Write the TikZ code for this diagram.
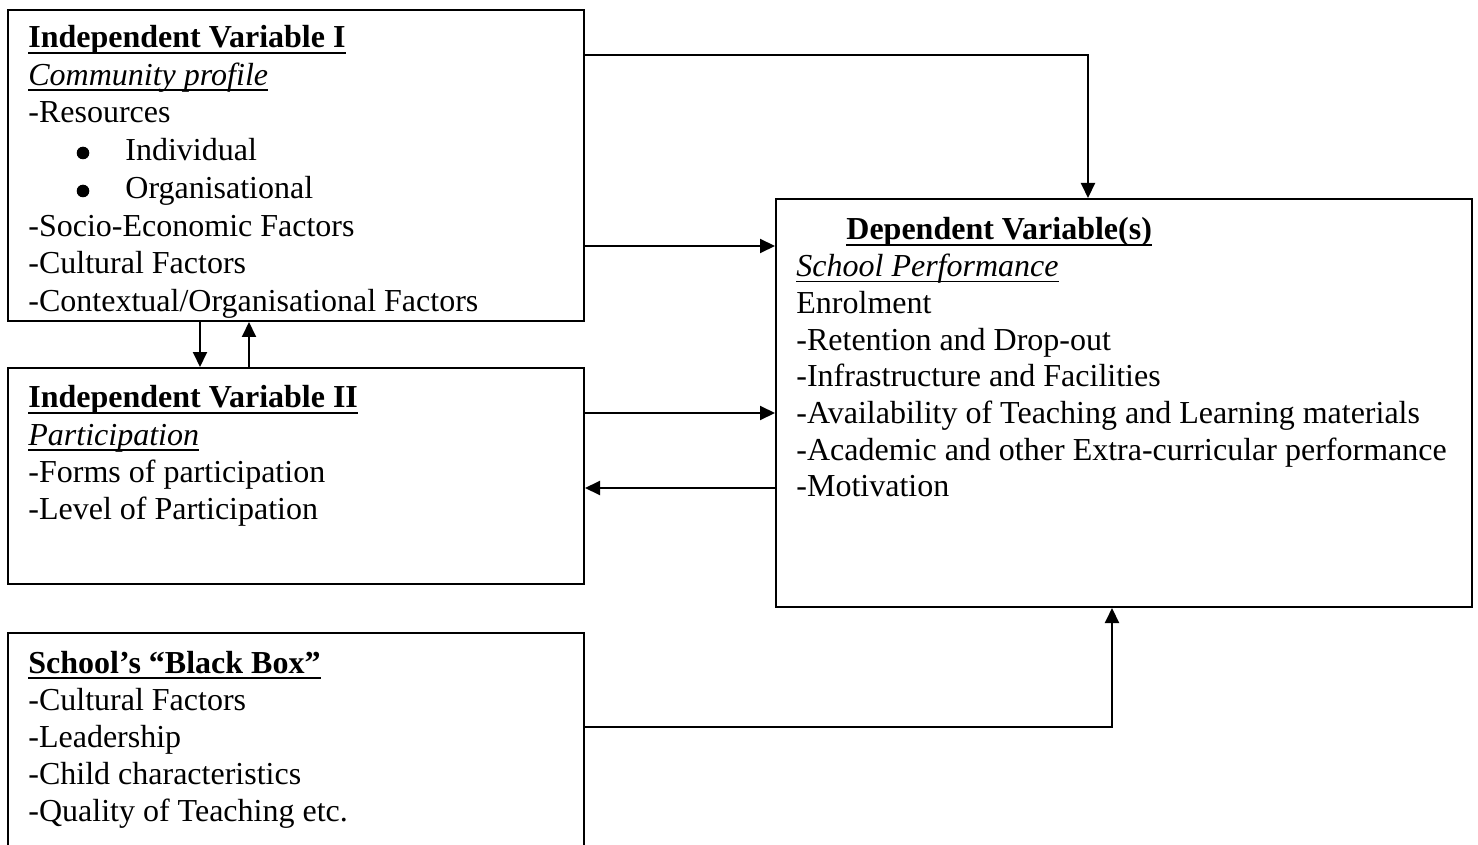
\documentclass[tikz,border=0pt]{standalone}
\usepackage{fontspec}
\setmainfont{Liberation Serif}
\usetikzlibrary{arrows.meta,fit}
\newcommand{\ulthick}[1]{\setbox0\hbox{#1}\rlap{\rule[-3.1pt]{\wd0}{1.3pt}}\box0}
\newcommand{\ulthin}[1]{\setbox0\hbox{#1}\rlap{\rule[-2.6pt]{\wd0}{0.6pt}}\box0}
\tikzset{
  box/.style={draw, line width=1pt, inner sep=0pt, rectangle},
  txt/.style={anchor=base west, inner sep=0pt, font=\fontsize{16pt}{18.6pt}\selectfont},
  bul/.style={circle, fill, inner sep=0pt, minimum size=6.3pt},
  arr/.style={line width=1pt, -{Triangle[length=7.5pt,width=7pt]}}
}
\begin{document}
\begin{tikzpicture}[x=0.5pt,y=-0.5pt]
\useasboundingbox (0,0) rectangle (1478,845);
\clip (0,0) rectangle (1478,845);
% boxes
\node[box, fit={(8,10)(584,321)}] (b1) {};
\node[box, fit={(8,368)(584,584)}] (b2) {};
\node[box, fit={(776,199)(1472,607)}] (dv) {};
\node[box, fit={(8,633)(584,870)}] (b3) {};
% helper coordinates
\coordinate (y55) at (0,55);
\coordinate (y246) at (0,246);
\coordinate (y413) at (0,413);
\coordinate (y488) at (0,488);
\coordinate (y727) at (0,727);
\coordinate (x200) at (200,0);
\coordinate (x249) at (249,0);
\coordinate (x1088) at (1088,0);
\coordinate (x1112) at (1112,0);
% box 1 text
\begin{scope}
\clip (8,10) rectangle (584,320);
\node[txt] (t11) at (28,48) {\ulthick{\bfseries Independent Variable I}};
\node[txt] (t12) at (28,85.5) {\ulthin{\itshape Community profile}};
\node[txt] (t13) at (28,123) {-Resources};
\node[bul] (t14b) at (83,153) {};
\node[txt] (t14) at (125,161) {Individual};
\node[bul] (t15b) at (83,191) {};
\node[txt] (t15) at (125,199) {Organisational};
\node[txt] (t16) at (28,236.5) {-Socio-Economic Factors};
\node[txt] (t17) at (28,274) {-Cultural Factors};
\node[txt] (t18) at (28,312) {-Contextual/Organisational Factors};
\end{scope}
% box 2 text
\node[txt] (t21) at (28,408) {\ulthick{\bfseries Independent Variable II}};
\node[txt] (t22) at (28,445.3) {\ulthin{\itshape Participation}};
\node[txt] (t23) at (28,482.6) {-Forms of participation};
\node[txt] (t24) at (28,519.9) {-Level of Participation};
% dependent text
\node[txt] (d1) at (846,240) {\ulthick{\bfseries Dependent Variable(s)}};
\node[txt] (d2) at (796,276.7) {\ulthin{\itshape School Performance}};
\node[txt] (d3) at (796,313.4) {Enrolment};
\node[txt] (d4) at (796,350.1) {-Retention and Drop-out};
\node[txt] (d5) at (796,386.8) {-Infrastructure and Facilities};
\node[txt] (d6) at (796,423.5) {-Availability of Teaching and Learning materials};
\node[txt] (d7) at (796,460.2) {-Academic and other Extra-curricular performance};
\node[txt] (d8) at (796,496.9) {-Motivation};
% box 3 text
\node[txt] (t31) at (28,673) {\ulthick{\bfseries School’s “Black Box”}};
\node[txt] (t32) at (28,710) {-Cultural Factors};
\node[txt] (t33) at (28,747) {-Leadership};
\node[txt] (t34) at (28,784) {-Child characteristics};
\node[txt] (t35) at (28,821) {-Quality of Teaching etc.};
% connectors
\draw[arr] (b1.east |- y55) -| (dv.north -| x1088);
\draw[arr] (b1.east |- y246) -- (dv.west |- y246);
\draw[arr] (b1.south -| x200) -- (b2.north -| x200);
\draw[arr] (b2.north -| x249) -- (b1.south -| x249);
\draw[arr] (b2.east |- y413) -- (dv.west |- y413);
\draw[arr] (dv.west |- y488) -- (b2.east |- y488);
\draw[arr] (b3.east |- y727) -| (dv.south -| x1112);
\end{tikzpicture}
\end{document}
